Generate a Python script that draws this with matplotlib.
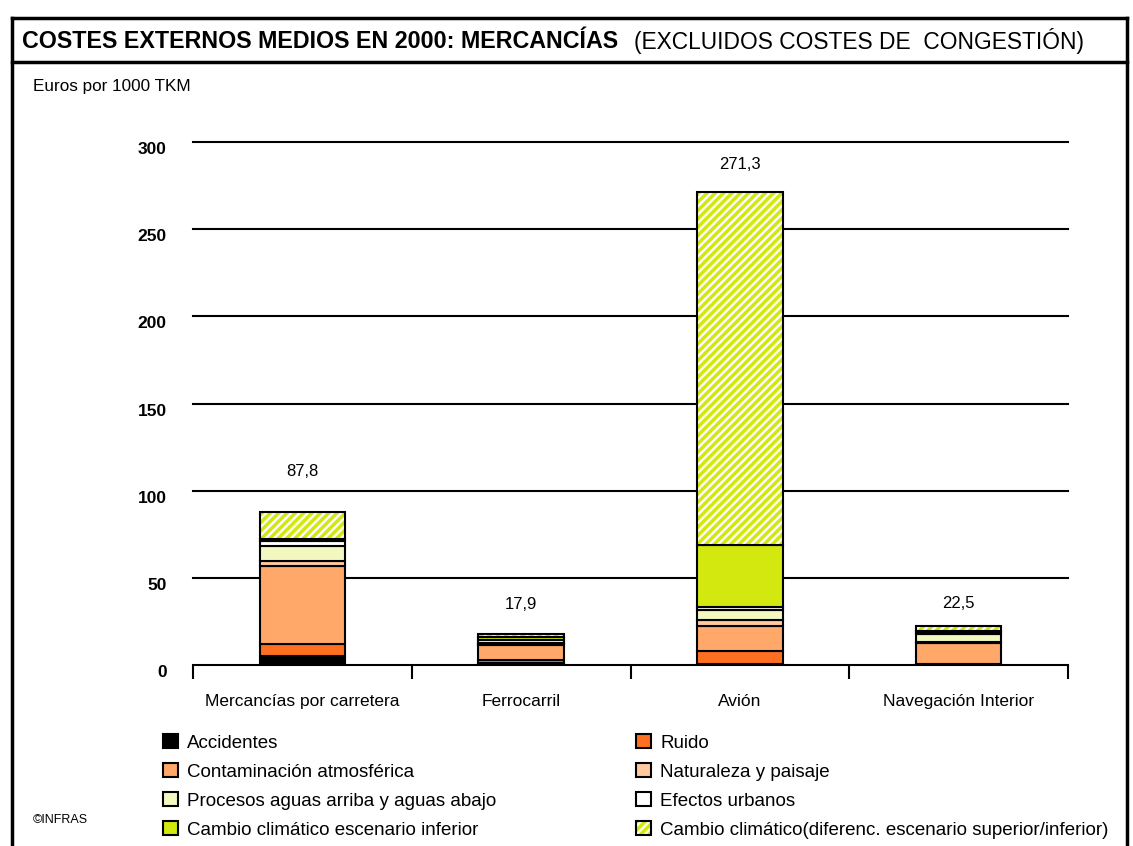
import matplotlib
matplotlib.use('Agg')
import matplotlib.pyplot as plt
from matplotlib.patches import Patch
from matplotlib.legend_handler import HandlerTuple
import numpy as np

plt.rcParams['font.family'] = ['Liberation Sans', 'DejaVu Sans']
plt.rcParams['hatch.linewidth'] = 2.5

categories = ['Mercancías por carretera', 'Ferrocarril', 'Avión', 'Navegación Interior']
totals = [87.8, 17.9, 271.3, 22.5]
total_labels = ['87,8', '17,9', '271,3', '22,5']

series_names = ['Accidentes', 'Ruido', 'Contaminación atmosférica', 'Naturaleza y paisaje',
                'Procesos aguas arriba y aguas abajo', 'Efectos urbanos',
                'Cambio climático escenario inferior',
                'Cambio climático(diferenc. escenario superior/inferior)']
accidentes = [5.0, 1.2, 0.3, 0.3]
ruido = [7.0, 1.8, 7.5, 0.3]
contaminacion = [44.8, 8.5, 14.5, 12.0]
naturaleza = [2.7, 0.6, 3.5, 0.4]
procesos = [8.5, 0.8, 6.0, 5.0]
urbanos = [3.0, 1.5, 1.5, 1.0]
cambio_inf = [1.5, 1.5, 35.7, 0.5]
cambio_dif = [15.3, 2.0, 202.3, 3.0]

series = [accidentes, ruido, contaminacion, naturaleza, procesos, urbanos, cambio_inf, cambio_dif]
colors = ['#000000', '#FF6F20', '#FFA86A', '#FFC9A0', '#F2F8C0', '#FFFFFF', '#D2E80E', '#FFFFFF']
HATCH_COL = '#D2E80E'
label_offsets = [29, 21, 20, 16]  # points above bar top

fig = plt.figure(figsize=(11.33, 8.46), dpi=100)
ax = fig.add_axes([193/1133, 1-665/846, 875/1133, (665-142)/846])

x = np.arange(len(categories))
w = 0.39
bottom = np.zeros(len(categories))
for i, (vals, col) in enumerate(zip(series, colors)):
    vals = np.array(vals)
    if i == 7:
        ax.bar(x, vals, w, bottom=bottom, color='white', edgecolor=HATCH_COL,
               hatch='////', linewidth=0, zorder=3)
        ax.bar(x, vals, w, bottom=bottom, color='none', edgecolor='black',
               linewidth=1.5, zorder=4)
    else:
        ax.bar(x, vals, w, bottom=bottom, color=col, edgecolor='black',
               linewidth=1.5, zorder=3)
    bottom += vals

for xi, t, lab, off in zip(x, totals, total_labels, label_offsets):
    ax.annotate(lab, (xi, t), xytext=(0, off), textcoords='offset points',
                ha='center', va='center', fontsize=12)

ax.set_xlim(-0.5, 3.5)
ax.set_ylim(0, 300)
ax.set_yticks([0, 50, 100, 150, 200, 250, 300])
for yv in [50, 100, 150, 200, 250, 300]:
    ax.axhline(yv, color='black', lw=1.5, zorder=1, clip_on=False)
ax.set_yticklabels(['0', '50', '100', '150', '200', '250', '300'], fontweight='bold', fontsize=12.5,
                   va='top')
ax.tick_params(axis='y', length=0, pad=19)
for s in ['top', 'right', 'left']:
    ax.spines[s].set_visible(False)
ax.spines['bottom'].set_linewidth(1.5)
ax.set_xticks(np.arange(-0.5, 4.0, 1.0))
ax.set_xticklabels([])
ax.set_xticks(x, minor=True)
ax.set_xticklabels(categories, minor=True, fontsize=12.5)
ax.tick_params(axis='x', which='major', length=10, width=1.5, direction='out')
ax.tick_params(axis='x', which='minor', length=0, pad=21)

# legend, two columns placed separately
def handle(i):
    if i == 7:
        return (Patch(facecolor='white', edgecolor=HATCH_COL, hatch='////', lw=0),
                Patch(facecolor='none', edgecolor='black', lw=1.5))
    return Patch(facecolor=colors[i], edgecolor='black', lw=1.5)

leg_kw = dict(frameon=False, fontsize=13.5, handlelength=0.8, handleheight=0.8,
              handletextpad=0.5, labelspacing=0.6, borderaxespad=0, borderpad=0,
              loc='upper left', handler_map={tuple: HandlerTuple(ndivide=1, pad=0)})
left_idx = [0, 2, 4, 6]
right_idx = [1, 3, 5, 7]
leg1 = fig.legend([handle(i) for i in left_idx], [series_names[i] for i in left_idx],
                  bbox_to_anchor=(163/1133, 1-734/846), **leg_kw)
leg2 = fig.legend([handle(i) for i in right_idx], [series_names[i] for i in right_idx],
                  bbox_to_anchor=(636/1133, 1-734/846), **leg_kw)

# frame and headings
for xs, ys in [([12, 12], [846, 18]), ([12, 1127], [18, 18]), ([1127, 1127], [18, 846]),
               ([12, 1127], [62, 62])]:
    fig.add_artist(plt.Line2D([v/1133 for v in xs], [1-v/846 for v in ys],
                              transform=fig.transFigure, color='black', lw=2.5))

def fit(txt, width_px):
    r = fig.canvas.get_renderer()
    wid = txt.get_window_extent(r).width
    txt.set_fontsize(txt.get_fontsize() * width_px / wid)

fig.canvas.draw()
t1 = fig.text(22/1133, 1-41/846, 'COSTES EXTERNOS MEDIOS EN 2000: MERCANCÍAS',
              fontsize=16, fontweight='bold', va='center', ha='left')
fit(t1, 597)
t2 = fig.text(634/1133, 1-41/846, '(EXCLUIDOS COSTES DE  CONGESTIÓN)',
              fontsize=16, va='center', ha='left')
fit(t2, 451)
t3 = fig.text(33/1133, 1-87/846, 'Euros por 1000 TKM', fontsize=12, va='center', ha='left')
fit(t3, 158)
fig.text(33/1133, 1-820/846, '©INFRAS', fontsize=9, va='center', ha='left')

fig.savefig('out.png', dpi=100)
